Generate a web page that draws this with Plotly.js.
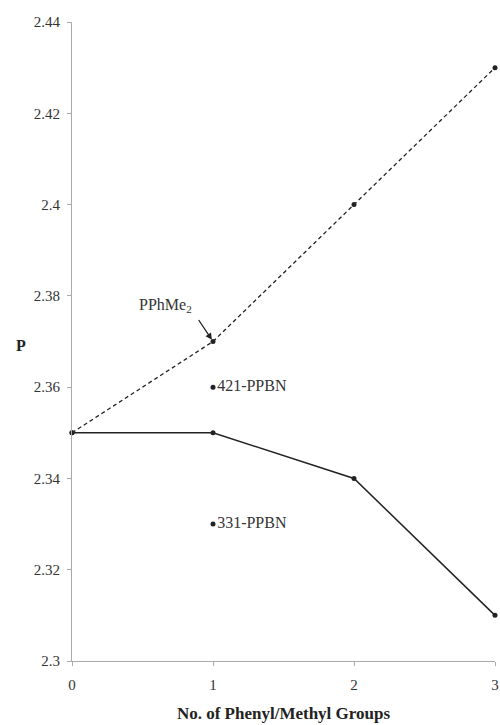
<!DOCTYPE html>
<html>
<head>
<meta charset="utf-8">
<script src="https://cdn.plot.ly/plotly-3.0.1.min.js"></script>
<style>
  html, body { margin: 0; padding: 0; background: #fff; }
  #chart { width: 500px; height: 725px; }
</style>
</head>
<body>
<div id="chart"></div>
<script>
// Number of phenyl/methyl groups on the phosphine
const groups = [0, 1, 2, 3];

// P values for the two series
const dashedSeries = [2.35, 2.37, 2.40, 2.43];
const solidSeries = [2.35, 2.35, 2.34, 2.31];

// Isolated compounds
const singleX = [1, 1];
const singleY = [2.36, 2.33];
const singleLabels = ['421-PPBN', '331-PPBN'];

// Labelled point on the dashed series
const pointerLabel = 'PPhMe<sub>2</sub>';
const pointerIndex = 1;

const serif = 'Liberation Serif, Times New Roman, serif';
const ink = '#222';

const traces = [
  {
    x: groups, y: dashedSeries, type: 'scatter', mode: 'lines+markers',
    line: { color: ink, width: 1.3, dash: '4px,3px' },
    marker: { color: ink, size: 5 },
    cliponaxis: false, showlegend: false, hoverinfo: 'skip'
  },
  {
    x: groups, y: solidSeries, type: 'scatter', mode: 'lines+markers',
    line: { color: ink, width: 1.5 },
    marker: { color: ink, size: 5 },
    cliponaxis: false, showlegend: false, hoverinfo: 'skip'
  },
  {
    x: singleX, y: singleY, type: 'scatter', mode: 'markers+text',
    text: singleLabels, textposition: 'middle right',
    textfont: { family: serif, size: 16, color: '#333' },
    marker: { color: ink, size: 5 },
    cliponaxis: false, showlegend: false, hoverinfo: 'skip'
  }
];

const layout = {
  width: 500, height: 725,
  margin: { l: 72, r: 5, t: 22, b: 64 },
  paper_bgcolor: '#fff', plot_bgcolor: '#fff',
  font: { family: serif, size: 15, color: '#333' },
  xaxis: {
    range: [0, 3], tickvals: groups, ticktext: groups.map(String),
    showgrid: false, zeroline: false,
    showline: true, linecolor: '#aaa', linewidth: 1,
    ticks: 'outside', ticklen: 4, tickcolor: '#aaa',
    ticklabelstandoff: 6,
    tickfont: { family: serif, size: 15, color: '#333' },
    title: {
      text: '<b>No. of Phenyl/Methyl Groups</b>',
      font: { family: serif, size: 17, color: '#222' },
      standoff: 15
    }
  },
  yaxis: {
    range: [2.3, 2.44], dtick: 0.02, tick0: 2.3,
    showgrid: false, zeroline: false,
    showline: true, linecolor: '#aaa', linewidth: 1,
    ticks: 'outside', ticklen: 4, tickcolor: '#aaa',
    ticklabelstandoff: 4,
    tickfont: { family: serif, size: 15, color: '#333' }
  },
  annotations: [
    {
      // label text for the pointed-at point
      x: groups[pointerIndex], y: dashedSeries[pointerIndex],
      xref: 'x', yref: 'y',
      text: pointerLabel, showarrow: false,
      xshift: -48, yshift: 36,
      font: { family: serif, size: 16, color: '#333' }
    },
    {
      // arrow from the label down to the point
      x: groups[pointerIndex], y: dashedSeries[pointerIndex],
      xref: 'x', yref: 'y',
      text: ' ', showarrow: true,
      ax: -16, ay: -24,
      arrowhead: 2, arrowsize: 1, arrowwidth: 1.3, arrowcolor: ink,
      standoff: 2,
      font: { family: serif, size: 2, color: '#fff' }
    },
    {
      x: -0.137, y: 0.494, xref: 'paper', yref: 'paper',
      text: '<b>P</b>', showarrow: false,
      font: { family: serif, size: 16, color: '#222' }
    }
  ]
};

Plotly.newPlot('chart', traces, layout, { displayModeBar: false, staticPlot: true });
</script>
</body>
</html>
